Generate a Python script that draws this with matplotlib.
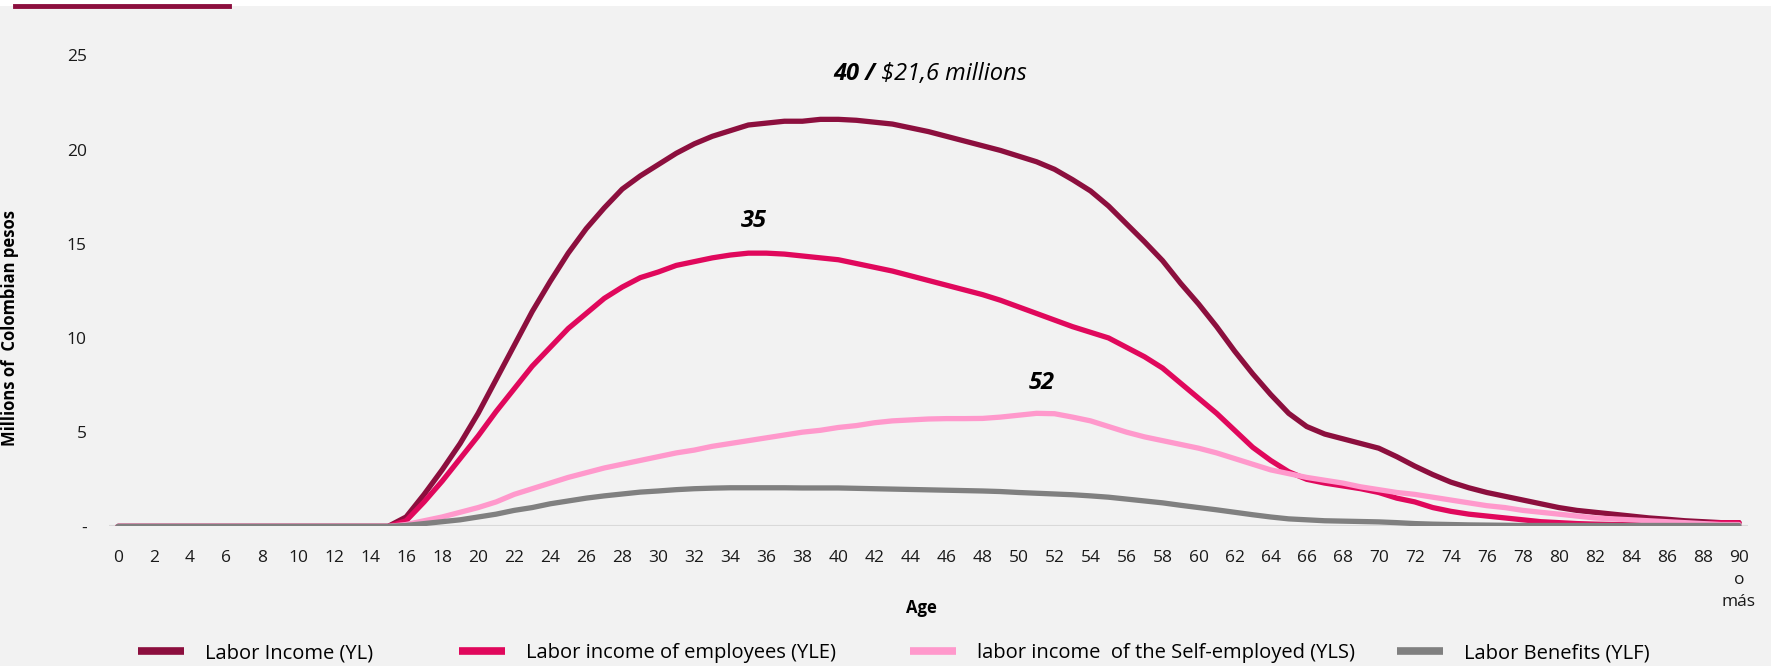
import numpy as np
import matplotlib
matplotlib.use('Agg')
import matplotlib.pyplot as plt
from matplotlib.lines import Line2D
from matplotlib.patches import Rectangle

plt.rcParams['font.family'] = ['Open Sans', 'DejaVu Sans']

ages = list(range(0, 91))
zeros = [0.0] * 16

yl = zeros + [0.5, 1.7, 3.0, 4.4, 6.0, 7.8, 9.6, 11.4, 13.0, 14.5,
              15.8, 16.9, 17.9, 18.6, 19.2, 19.8, 20.3, 20.7, 21.0, 21.3,
              21.4, 21.5, 21.5, 21.6, 21.6, 21.55, 21.45, 21.35, 21.15, 20.95,
              20.7, 20.45, 20.2, 19.95, 19.65, 19.35, 18.95, 18.4, 17.8, 17.0,
              16.05, 15.1, 14.1, 12.9, 11.8, 10.6, 9.3, 8.1, 7.0, 6.0,
              5.3, 4.9, 4.65, 4.4, 4.15, 3.7, 3.2, 2.75, 2.35, 2.05,
              1.8, 1.6, 1.4, 1.2, 1.0, 0.85, 0.75, 0.65, 0.55, 0.45,
              0.38, 0.3, 0.25, 0.2, 0.2]

yle = zeros + [0.3, 1.3, 2.4, 3.6, 4.8, 6.1, 7.3, 8.5, 9.5, 10.5,
               11.3, 12.1, 12.7, 13.2, 13.5, 13.85, 14.05, 14.25, 14.4, 14.5,
               14.5, 14.45, 14.35, 14.25, 14.15, 13.95, 13.75, 13.55, 13.3, 13.05,
               12.8, 12.55, 12.3, 12.0, 11.65, 11.3, 10.95, 10.6, 10.3, 10.0,
               9.5, 9.0, 8.4, 7.6, 6.8, 6.0, 5.1, 4.2, 3.5, 2.9,
               2.5, 2.3, 2.15, 2.0, 1.8, 1.5, 1.3, 1.0, 0.8, 0.65,
               0.55, 0.45, 0.35, 0.25, 0.2, 0.15, 0.12, 0.1, 0.1, 0.1,
               0.1, 0.12, 0.15, 0.2, 0.2]

yls = zeros + [0.1, 0.3, 0.5, 0.75, 1.0, 1.3, 1.7, 2.0, 2.3, 2.6,
               2.85, 3.1, 3.3, 3.5, 3.7, 3.9, 4.05, 4.25, 4.4, 4.55,
               4.7, 4.85, 5.0, 5.1, 5.25, 5.35, 5.5, 5.6, 5.65, 5.7,
               5.72, 5.72, 5.73, 5.8, 5.9, 6.0, 5.98, 5.8, 5.6, 5.3,
               5.0, 4.75, 4.55, 4.35, 4.15, 3.9, 3.6, 3.3, 3.0, 2.8,
               2.6, 2.45, 2.3, 2.1, 1.95, 1.8, 1.7, 1.55, 1.4, 1.25,
               1.1, 1.0, 0.85, 0.75, 0.65, 0.55, 0.45, 0.4, 0.35, 0.3,
               0.25, 0.2, 0.15, 0.1, 0.1]

ylf = zeros + [0.05, 0.15, 0.25, 0.35, 0.5, 0.65, 0.85, 1.0, 1.2, 1.35,
               1.5, 1.62, 1.72, 1.82, 1.88, 1.95, 2.0, 2.03, 2.05, 2.05,
               2.05, 2.05, 2.04, 2.04, 2.04, 2.02, 2.0, 1.98, 1.96, 1.94,
               1.92, 1.9, 1.88, 1.85, 1.8, 1.76, 1.72, 1.68, 1.62, 1.55,
               1.45, 1.35, 1.25, 1.12, 1.0, 0.88, 0.75, 0.62, 0.5, 0.4,
               0.35, 0.3, 0.28, 0.26, 0.24, 0.2, 0.15, 0.12, 0.1, 0.08,
               0.07, 0.06, 0.05, 0.05, 0.05, 0.05, 0.05, 0.05, 0.05, 0.05,
               0.05, 0.05, 0.05, 0.05, 0.05]

series = [
    ("Labor Income (YL)", yl, "#8C0F3E"),
    ("Labor income of employees (YLE)", yle, "#E0085C"),
    ("labor income  of the Self-employed (YLS)", yls, "#FF99CC"),
    ("Labor Benefits (YLF)", ylf, "#808080"),
]

x_ticks = list(range(0, 91, 2))
x_labels = [str(a) for a in x_ticks[:-1]] + ["90\no\nmás"]
y_ticks = [0, 5, 10, 15, 20, 25]
y_labels = ["-", "5", "10", "15", "20", "25"]

bg = "#f2f2f2"
fig = plt.figure(figsize=(17.71, 6.66), dpi=100, facecolor=bg)
ax = fig.add_axes([0.0615, 0.2096, 0.9255, 0.7074])
ax.set_facecolor(bg)

# white strip and accent line at the top
fig.patches.append(Rectangle((0, 1 - 6 / 666), 1, 6 / 666, transform=fig.transFigure,
                             facecolor="white", edgecolor="none"))
fig.lines.append(Line2D([15 / 1771, 229 / 1771], [1 - 6 / 666, 1 - 6 / 666],
                        transform=fig.transFigure, color="#8C0F3E", lw=3.5))

ax.axhline(0, color="#d9d9d9", lw=1.5, zorder=1)
for name, vals, col in series:
    ax.plot(ages, vals, color=col, lw=3.8, label=name, solid_capstyle="round", zorder=3)

ax.set_xlim(-0.5, 90.5)
ax.set_ylim(0, 25)
ax.set_xticks(x_ticks)
ax.set_xticklabels(x_labels, fontsize=12.5, color="#1a1a1a", linespacing=1.5)
ax.set_yticks(y_ticks)
ax.set_yticklabels(y_labels, fontsize=12.5, color="#1a1a1a")
ax.tick_params(axis="x", length=0, pad=17)
ax.tick_params(axis="y", length=0, pad=16)
for s in ax.spines.values():
    s.set_visible(False)

ax.set_xlabel("Age", fontsize=12, fontweight="bold")
ax.xaxis.set_label_coords(0.496, -0.154)
ax.set_ylabel("Millions of  Colombian pesos", fontsize=12, fontweight="bold")
ax.yaxis.set_label_coords(-0.055, 0.421)

t1 = ax.text(39.7, 24.0, "40 /", fontsize=17, fontweight="bold", style="italic",
             ha="left", va="center")
ax.annotate(r" \$21,6 millions", xy=(1, 0), xycoords=t1, fontsize=17, style="italic",
            ha="left", va="bottom")
ax.text(35.3, 16.2, "35", fontsize=17, fontweight="bold", style="italic", ha="center", va="center")
ax.text(51.3, 7.6, "52", fontsize=17, fontweight="bold", style="italic", ha="center", va="center")

# one legend per entry, placed like the original layout
handles, labels = ax.get_legend_handles_labels()
leg_x = [138, 459, 910, 1397]
for h, lab, lx in zip(handles, labels, leg_x):
    leg = fig.legend([h], [lab], loc="center left", bbox_to_anchor=(lx / 1771, 1 - 653 / 666),
                     frameon=False, fontsize=14.5, handlelength=2.3, handletextpad=1.05,
                     borderpad=0, borderaxespad=0)
    for ln in leg.get_lines():
        ln.set_linewidth(5.5)
        ln.set_solid_capstyle("butt")

fig.savefig("out.png", dpi=100, facecolor=bg)
